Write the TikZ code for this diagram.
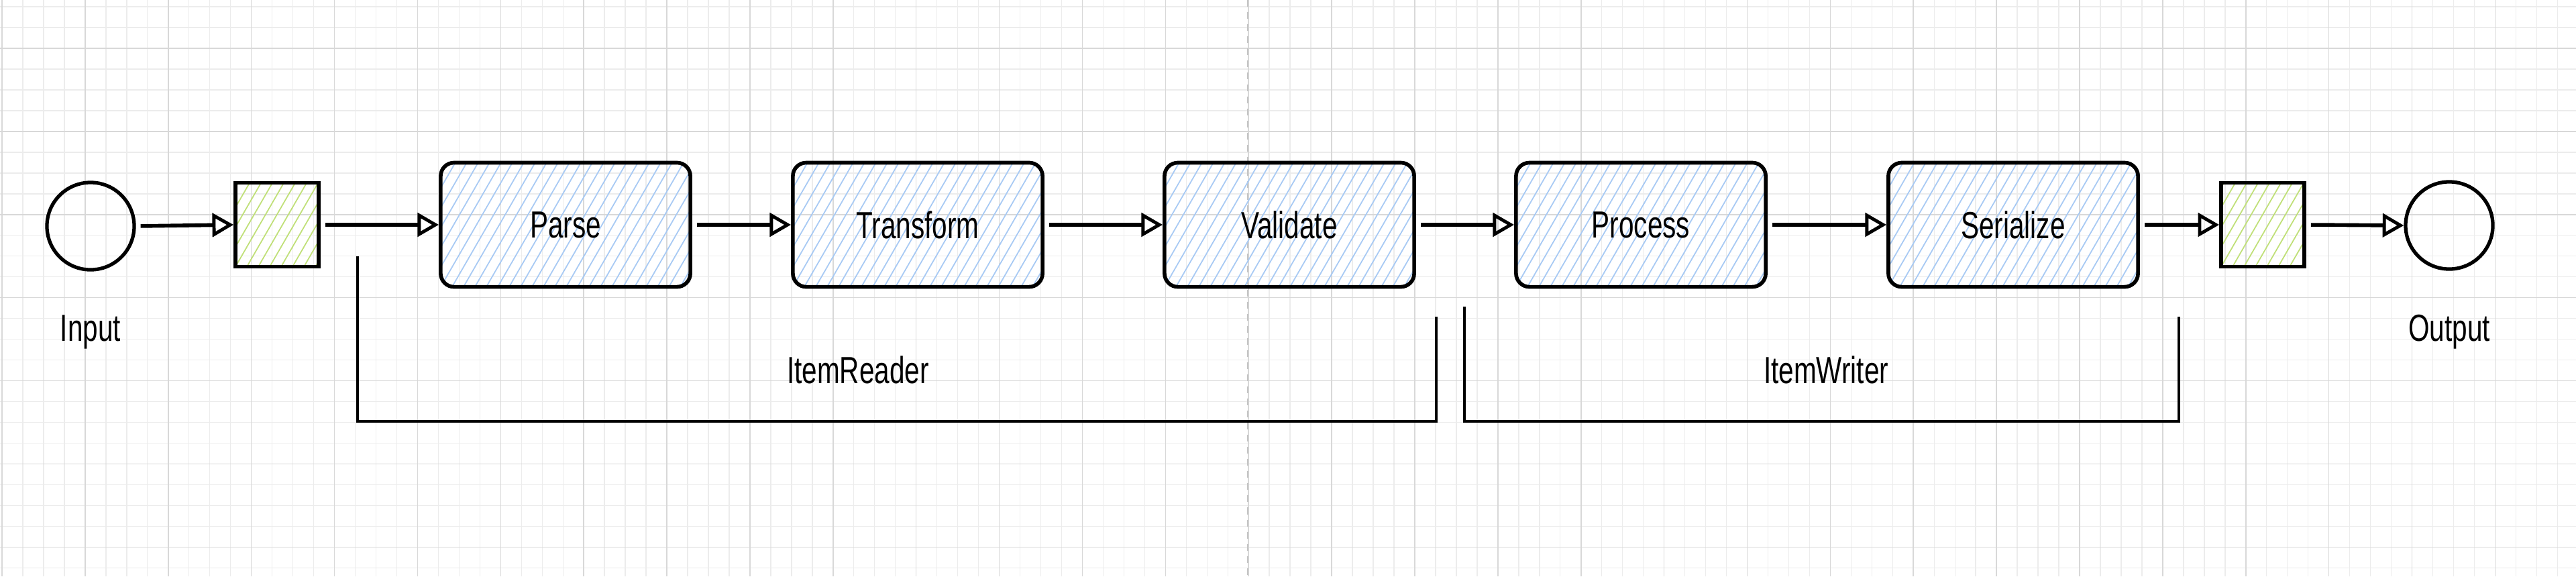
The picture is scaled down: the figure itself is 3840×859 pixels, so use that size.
\documentclass[tikz,border=0pt]{standalone}
\usepackage{fontspec}
\newfontfamily\hand[FakeStretch=0.72]{Liberation Sans}
\usetikzlibrary{arrows.meta}
\definecolor{hatchblue}{RGB}{168,202,244}
\definecolor{hatchgreen}{RGB}{192,224,120}
\definecolor{gridminor}{RGB}{236,236,236}
\definecolor{gridmajor}{RGB}{216,216,216}
\definecolor{dashgray}{RGB}{196,196,196}
\begin{document}
\begin{tikzpicture}[x=0.01cm,y=-0.01cm,
  hatchfill/.style={path picture={
     \foreach \k in {-10,...,26}{
       \draw[#1,line width=0.5pt] ([xshift=\k*0.17cm]path picture bounding box.south west) -- ++(60:2.6cm);
     }}},
  procbox/.style={draw=black,line width=1.6pt,rounded corners=0.2cm,minimum width=3.72cm,minimum height=1.85cm,inner sep=0pt,hatchfill=hatchblue,font=\hand\fontsize{16}{19}\selectfont},
  gbox/.style={draw=black,line width=1.6pt,minimum width=1.24cm,minimum height=1.25cm,inner sep=0pt,hatchfill=hatchgreen},
  circ/.style={draw=black,line width=1.5pt,circle,minimum size=1.3cm,inner sep=0pt},
  lbl/.style={font=\hand\fontsize{16}{19}\selectfont,inner sep=0pt,anchor=base},
  arr/.style={-{Triangle[open,length=9pt,width=10pt,line width=1.4pt]},line width=1.6pt,shorten <=2pt},
  bracket/.style={line width=1.1pt,black},
]
\useasboundingbox (0,0) rectangle (3840,859);
\fill[white] (0,0) rectangle (3840,859);
% grid
\foreach \i in {0,...,124}{
  \draw[gridminor,line width=0.4pt] ({3+\i*30.97},0) -- ({3+\i*30.97},859);
}
\foreach \j in {-2,...,25}{
  \draw[gridminor,line width=0.4pt] (0,{72+\j*30.97}) -- (3840,{72+\j*30.97});
}
\foreach \i in {0,...,31}{
  \draw[gridmajor,line width=0.45pt] ({3+\i*123.88},0) -- ({3+\i*123.88},859);
}
\foreach \j in {0,...,6}{
  \draw[gridmajor,line width=0.45pt] (0,{72+\j*123.88}) -- (3840,{72+\j*123.88});
}
\draw[dashgray,line width=0.45pt,dash pattern=on 0.1cm off 0.08cm] (1860,0) -- (1860,859);

% nodes
\node[circ] (in) at (135,337) {};
\node[gbox] (g1) at (413,335) {};
\node[procbox] (parse) at (843,335) {Parse};
\node[procbox] (trans) at (1368,335) {Transform};
\node[procbox] (valid) at (1922,335) {Validate};
\node[procbox] (proc) at (2446,335) {Process};
\node[procbox] (ser) at (3001,335) {Serialize};
\node[gbox] (g2) at (3373,335) {};
\node[circ] (out) at (3651,336) {};

\node[lbl] (inl) at (135,508) {Input};
\node[lbl] (outl) at (3651,508) {Output};
\node[lbl] (rl) at (1279,571) {ItemReader};
\node[lbl] (wl) at (2722,571) {ItemWriter};

% connectors
\draw[arr] (in.east) -- (g1.west);
\draw[arr] (g1.east) -- (parse.west);
\draw[arr] (parse.east) -- (trans.west);
\draw[arr] (trans.east) -- (valid.west);
\draw[arr] (valid.east) -- (proc.west);
\draw[arr] (proc.east) -- (ser.west);
\draw[arr] (ser.east) -- (g2.west);
\draw[arr] (g2.east) -- (out.west);

% brackets
\draw[bracket] (533,382) -- (533,628) -- (2141,628) -- (2141,472);
\draw[bracket] (2183,457) -- (2183,628) -- (3248,628) -- (3248,472);
\end{tikzpicture}
\end{document}
